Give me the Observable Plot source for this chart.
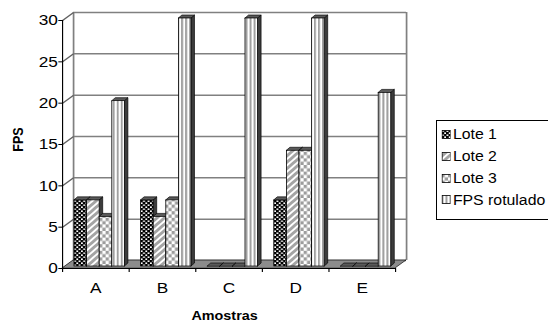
<!DOCTYPE html>
<html>
<head>
<meta charset="utf-8">
<script src="https://cdn.jsdelivr.net/npm/d3@7"></script>
<script src="https://cdn.jsdelivr.net/npm/@observablehq/plot@0.6"></script>
<style>
  html, body { margin: 0; padding: 0; background: #fff; }
  body { width: 548px; height: 323px; overflow: hidden; position: relative;
         font-family: "Liberation Sans", Arial, sans-serif; }
  #chart { position: absolute; left: 0; top: 0; }
  #legend { position: absolute; left: 436px; top: 120px; width: 140px; height: 98px;
            border: 1px solid #000; background: #fff; }
  #legend .inner { position: absolute; left: 0; top: 0; width: 100%; height: 100%;
                   transform: scaleX(1.13); transform-origin: 0 0; }
  .row { position: absolute; left: 3.5px; height: 16px; display: flex; align-items: center;
         white-space: nowrap; font-size: 14px; color: #000; }
  .row svg { margin-right: 1.9px; flex: none; }
</style>
</head>
<body>
<div id="chart"></div>
<div id="legend"><div class="inner"></div></div>
<script>
// Frames per second per sample (Amostras A–E) for three batches and the labelled reference
const categories = ["A", "B", "C", "D", "E"];
const seriesNames = ["Lote 1", "Lote 2", "Lote 3", "FPS rotulado"];
const lote1 = [8, 8, 0, 8, 0];
const lote2 = [8, 6, 0, 14, 0];
const lote3 = [6, 8, 0, 14, 0];
const fpsRotulado = [20, 30, 30, 30, 21];
const yTicks = [0, 5, 10, 15, 20, 25, 30];

const series = [lote1, lote2, lote3, fpsRotulado];

// The drawing is laid out narrower and widened horizontally as a whole.
const S = 1.15;
const FULL_W = 548, FULL_H = 323;
const X0 = 62, X1 = 395, Y0 = 268, Y30 = 20;       // front plane, page pixels
const bandPx = (X1 - X0) / categories.length;
const unitPx = (Y0 - Y30) / 30;

// 3D depth of the walls and the bars, in data units
const WALL_DX = 11 / bandPx, WALL_DY = 8 / unitPx;
const BAR_START = 12 / bandPx, BAR_W = 12.6 / bandPx;
const BAR_BY = 2 / unitPx;
const BAR_DX = 3.5 / bandPx, BAR_DY = 3 / unitPx;
const N = categories.length;

const bars = categories.flatMap((c, i) => series.map((vals, j) => ({
  key: c + "-" + j, j, value: vals[i],
  x1: i + BAR_START + j * BAR_W,
  x2: i + BAR_START + (j + 1) * BAR_W
})));

const sidePts = bars.flatMap(b => [
  {key: b.key, x: b.x2, y1: BAR_BY, y2: b.value + BAR_BY},
  {key: b.key, x: b.x2 + BAR_DX, y1: BAR_BY + BAR_DY, y2: b.value + BAR_BY + BAR_DY}
]);
const topPts = bars.flatMap(b => [
  {key: b.key, y: b.value + BAR_BY, x1: b.x1, x2: b.x2},
  {key: b.key, y: b.value + BAR_BY + BAR_DY, x1: b.x1 + BAR_DX, x2: b.x2 + BAR_DX}
]);
const floorPts = [
  {y: 0, x1: 0, x2: N},
  {y: WALL_DY, x1: WALL_DX, x2: N + WALL_DX}
];

const plot = Plot.plot({
  width: FULL_W / S,
  height: FULL_H,
  marginLeft: X0 / S,
  marginRight: (FULL_W - X1) / S,
  marginTop: Y30,
  marginBottom: FULL_H - Y0,
  style: {fontFamily: "'Liberation Sans', Arial, sans-serif", fontSize: "15px", color: "#000", background: "#fff"},
  x: {domain: [0, N], ticks: categories.map((_, i) => i + 0.5),
      tickFormat: d => categories[Math.floor(d)], tickSize: 0, tickPadding: 13.6, label: null},
  y: {domain: [0, 30], ticks: yTicks, tickSize: 3.2, tickPadding: 0.9, label: null},
  marks: [
    // back wall: gridlines and edges
    Plot.ruleY(yTicks, {y: d => d + WALL_DY, x1: WALL_DX, x2: N + WALL_DX, stroke: "#808080", strokeWidth: 1.5}),
    Plot.ruleX([WALL_DX, N + WALL_DX], {y1: WALL_DY, y2: 30 + WALL_DY, stroke: "#808080", strokeWidth: 1.5}),
    // left wall
    Plot.link(yTicks, {x1: 0, y1: d => d, x2: WALL_DX, y2: d => d + WALL_DY, stroke: "#606060", strokeWidth: 1.2}),
    // floor
    Plot.areaX(floorPts, {y: "y", x1: "x1", x2: "x2", fill: "#8c8c8c", stroke: "#000", strokeWidth: 0.6}),
    // bars: side faces, top faces, front faces
    Plot.areaY(sidePts, {x: "x", y1: "y1", y2: "y2", z: "key", fill: "#3c3c3c", stroke: "#000", strokeWidth: 0.6}),
    Plot.areaX(topPts, {y: "y", x1: "x1", x2: "x2", z: "key", fill: "#5a5a5a", stroke: "#000", strokeWidth: 0.6}),
    ...seriesNames.map((_, j) => Plot.rect(bars.filter(b => b.j === j), {
      x1: "x1", x2: "x2", y1: BAR_BY, y2: d => d.value + BAR_BY,
      fill: `url(#pat${j})`, stroke: "#000", strokeWidth: 0.7
    })),
    // axis lines and category separators
    Plot.ruleX([0], {y1: 0, y2: 30, stroke: "#000", strokeWidth: 1}),
    Plot.ruleY([0], {x1: 0, x2: N, stroke: "#000", strokeWidth: 1}),
    Plot.ruleX(d3.range(N + 1), {y1: 0, y2: -4 / unitPx, stroke: "#000", strokeWidth: 1}),
    // axis titles
    Plot.text(["FPS"], {frameAnchor: "left", rotate: -90, dx: (18 - X0) / S, dy: 139 - (Y0 + Y30) / 2,
      fontWeight: "bold", fontSize: 12.5, textAnchor: "middle", lineAnchor: "middle"}),
    Plot.text(["Amostras"], {frameAnchor: "bottom", dx: (224 - (X0 + X1) / 2) / S, dy: 315 - Y0,
      fontWeight: "bold", fontSize: 12.5, lineAnchor: "middle"})
  ]
});

// fill patterns for the four series
const defs = d3.select(plot).insert("defs", ":first-child");
defs.html(`
  <pattern id="pat0" patternUnits="userSpaceOnUse" width="4" height="4">
    <rect width="4" height="4" fill="#000"/>
    <rect x="0.4" y="0.4" width="1.6" height="1.6" fill="#fff"/>
    <rect x="2.4" y="2.4" width="1.6" height="1.6" fill="#fff"/>
  </pattern>
  <pattern id="pat1" patternUnits="userSpaceOnUse" width="4.5" height="4.5" patternTransform="rotate(45)">
    <rect width="4.5" height="4.5" fill="#a4a4a4"/>
    <rect width="1.8" height="4.5" fill="#fff"/>
  </pattern>
  <pattern id="pat2" patternUnits="userSpaceOnUse" width="5.74" height="6.6">
    <rect width="5.74" height="6.6" fill="#fff"/>
    <rect width="2.87" height="3.3" fill="#9c9c9c"/>
    <rect x="2.87" y="3.3" width="2.87" height="3.3" fill="#9c9c9c"/>
  </pattern>
  <pattern id="pat3" patternUnits="userSpaceOnUse" width="3.5" height="4">
    <rect width="3.5" height="4" fill="#fff"/>
    <rect width="1.75" height="4" fill="#a0a0a0"/>
  </pattern>
`);

// widen the whole drawing horizontally
plot.setAttribute("width", FULL_W);
plot.setAttribute("height", FULL_H);
plot.setAttribute("preserveAspectRatio", "none");
plot.style.width = FULL_W + "px";
plot.style.height = FULL_H + "px";
plot.style.maxWidth = "none";
document.getElementById("chart").appendChild(plot);

// legend
const rowCenters = [13, 35, 57, 78.5];
const inner = d3.select("#legend .inner");
seriesNames.forEach((name, j) => {
  const row = inner.append("div").attr("class", "row").style("top", (rowCenters[j] - 8) + "px");
  const sw = row.append("svg").attr("width", 8.7).attr("height", 9);
  sw.append("rect").attr("x", 0.5).attr("y", 0.5).attr("width", 7.7).attr("height", 8)
    .attr("fill", `url(#pat${j})`).attr("stroke", "#000").attr("stroke-width", 0.8);
  row.append("span").text(name);
});
</script>
</body>
</html>
